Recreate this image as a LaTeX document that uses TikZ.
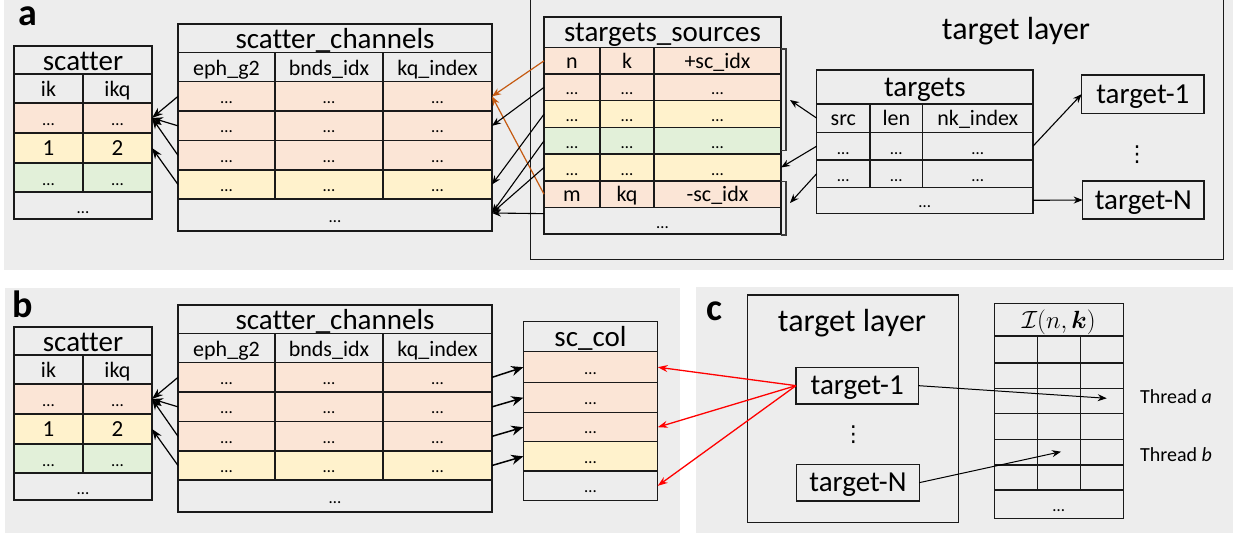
\documentclass[tikz,border=0pt]{standalone}
\usepackage{fontspec}
\setmainfont{Carlito}[Ligatures=NoCommon]
\newfontfamily\dejavu{DejaVu Sans}
\usepackage{amsmath}
\usetikzlibrary{arrows.meta,calc}
\definecolor{pinkc}{HTML}{FBE5D6}
\definecolor{yelc}{HTML}{FFF2CC}
\definecolor{grnc}{HTML}{E2F0D9}
\definecolor{bgc}{HTML}{EDEDED}
\definecolor{lnc}{HTML}{1A1A1A}
\definecolor{orgc}{HTML}{C55A11}
\newcommand\fs[1]{\fontsize{#1}{#1}\selectfont}
\newcommand\fd{\fs{17}}
\newcommand\ft{\fs{29}}
\tikzset{
  cell/.style={draw=lnc, line width=1.4pt, inner sep=0pt, outer sep=0pt, text depth=0pt, anchor=center},
  boxline/.style={draw=lnc, line width=1.4pt},
  brk/.style={draw=lnc!85, line width=1.1pt},
  arrA/.style={-{Stealth[length=9pt,width=7pt]}, line width=1.1pt, draw=black},
  arrS/.style={-{Stealth[length=11pt,width=8pt]}, line width=1.2pt, draw=black},
  arrB/.style={-{Stealth[length=12pt,width=10pt]}, line width=1.5pt, draw=black},
  arrO/.style={-{Stealth[length=9pt,width=7pt]}, line width=1.2pt, draw=orgc},
  arrR/.style={-{Stealth[length=10pt,width=7pt]}, line width=1.3pt, draw=red},
  lbl/.style={font=\bfseries\fs{38}, anchor=base, inner sep=0pt},
  vd/.style={font=\dejavu\fs{22}, inner sep=0pt},
}
% name, x1, y1, x2, y2, fill, font, baseline offset, text
\newcommand\tcell[9]{%
  \pgfmathsetmacro\tcW{#4-#2}%
  \pgfmathsetmacro\tcH{#5-#3}%
  \pgfmathsetmacro\tcX{(#2+#4)/2}%
  \pgfmathsetmacro\tcY{(#3+#5)/2}%
  \pgfmathsetmacro\tcT{#5-#3-2*#8}%
  \node[cell,fill=#6,font=#7,minimum width=\tcW pt,minimum height=\tcH pt,text height=\tcT pt] (#1) at (\tcX,\tcY) {#9};%
}
\newcommand\scatterpair[1]{%
  % scatter table
  \tcell{#1S0}{14}{46}{152}{74}{none}{\ft}{3.4}{scatter}
  \tcell{#1Sh1}{14}{74}{83}{103}{none}{\fs{22}}{6.3}{ik}
  \tcell{#1Sh2}{83}{74}{152}{103}{none}{\fs{22}}{6.3}{ikq}
  \tcell{#1S1a}{14}{103}{83}{133}{pinkc}{\fd}{7.5}{…}
  \tcell{#1S1b}{83}{103}{152}{133}{pinkc}{\fd}{7.5}{…}
  \tcell{#1S2a}{14}{133}{83}{163}{yelc}{\fs{23}}{8}{1}
  \tcell{#1S2b}{83}{133}{152}{163}{yelc}{\fs{23}}{8}{2}
  \tcell{#1S3a}{14}{163}{83}{192}{grnc}{\fd}{7}{…}
  \tcell{#1S3b}{83}{163}{152}{192}{grnc}{\fd}{7}{…}
  \tcell{#1S4}{14}{192}{152}{219}{none}{\fd}{6}{…}
  % scatter_channels table
  \tcell{#1C0}{178}{24}{492}{52.7}{none}{\ft}{4.4}{scatter\_channels}
  \tcell{#1Ch1}{178}{52.7}{275}{81.7}{none}{\fs{22}}{6.7}{eph\_g2}
  \tcell{#1Ch2}{275}{52.7}{383}{81.7}{none}{\fs{22}}{6.7}{bnds\_idx}
  \tcell{#1Ch3}{383}{52.7}{492}{81.7}{none}{\fs{22}}{6.7}{kq\_index}
  \tcell{#1C1a}{178}{81.7}{275}{111}{pinkc}{\fd}{8}{…}
  \tcell{#1C1b}{275}{81.7}{383}{111}{pinkc}{\fd}{8}{…}
  \tcell{#1C1c}{383}{81.7}{492}{111}{pinkc}{\fd}{8}{…}
  \tcell{#1C2a}{178}{111}{275}{140.7}{pinkc}{\fd}{8}{…}
  \tcell{#1C2b}{275}{111}{383}{140.7}{pinkc}{\fd}{8}{…}
  \tcell{#1C2c}{383}{111}{492}{140.7}{pinkc}{\fd}{8}{…}
  \tcell{#1C3a}{178}{140.7}{275}{170}{pinkc}{\fd}{8}{…}
  \tcell{#1C3b}{275}{140.7}{383}{170}{pinkc}{\fd}{8}{…}
  \tcell{#1C3c}{383}{140.7}{492}{170}{pinkc}{\fd}{8}{…}
  \tcell{#1C4a}{178}{170}{275}{199}{yelc}{\fd}{8}{…}
  \tcell{#1C4b}{275}{170}{383}{199}{yelc}{\fd}{8}{…}
  \tcell{#1C4c}{383}{170}{492}{199}{yelc}{\fd}{8}{…}
  \tcell{#1C5}{178}{199}{492}{231}{none}{\fd}{8.5}{…}
  % channels -> scatter
  \draw[arrS] (#1C1a.west) -- (#1S1b.east);
  \draw[arrS] (#1C2a.west) -- (#1S1b.east);
  \draw[arrS] (#1C3a.west) -- (#1S1b.east);
  \draw[arrS] (#1C4a.west) -- (#1S2b.east);
}
\begin{document}
\begin{tikzpicture}[x=1pt,y=-1pt]
\path[use as bounding box, fill=white] (0,0) rectangle (1237,535);
% panel backgrounds
\fill[bgc] (4,0) rectangle (1233,270);
\fill[bgc] (5,288.3) rectangle (680,533);
\fill[bgc] (696,286.7) rectangle (1233,533);

%================ panel a
\node[lbl] (la) at (28.3,26) {a};
\draw[boxline] (530.7,-5) rectangle (1223.3,259.3);
\node[font=\fs{32}, anchor=base, inner sep=0pt] (tla) at (1016,39.3) {target layer};
\scatterpair{p}

% stargets_sources
\tcell{T0}{544}{17}{781}{47.7}{none}{\ft}{6}{stargets\_sources}
\tcell{T1a}{544}{47.7}{600}{74}{pinkc}{\fs{22}}{5.7}{n}
\tcell{T1b}{600}{47.7}{654}{74}{pinkc}{\fs{22}}{5.7}{k}
\tcell{T1c}{654}{47.7}{781}{74}{pinkc}{\fs{22}}{5.7}{+sc\_idx}
\tcell{T2a}{544}{74}{600}{100.7}{pinkc}{\fd}{6}{…}
\tcell{T2b}{600}{74}{654}{100.7}{pinkc}{\fd}{6}{…}
\tcell{T2c}{654}{74}{781}{100.7}{pinkc}{\fd}{6}{…}
\tcell{T3a}{544}{100.7}{600}{127.7}{yelc}{\fd}{6}{…}
\tcell{T3b}{600}{100.7}{654}{127.7}{yelc}{\fd}{6}{…}
\tcell{T3c}{654}{100.7}{781}{127.7}{yelc}{\fd}{6}{…}
\tcell{T4a}{544}{127.7}{600}{154}{grnc}{\fd}{6}{…}
\tcell{T4b}{600}{127.7}{654}{154}{grnc}{\fd}{6}{…}
\tcell{T4c}{654}{127.7}{781}{154}{grnc}{\fd}{6}{…}
\tcell{T5a}{544}{154}{600}{181}{yelc}{\fd}{6}{…}
\tcell{T5b}{600}{154}{654}{181}{yelc}{\fd}{6}{…}
\tcell{T5c}{654}{154}{781}{181}{yelc}{\fd}{6}{…}
\tcell{T6a}{544}{181}{600}{207.3}{pinkc}{\fs{22}}{5.7}{m}
\tcell{T6b}{600}{181}{654}{207.3}{pinkc}{\fs{22}}{5.7}{kq}
\tcell{T6c}{654}{181}{781}{207.3}{pinkc}{\fs{22}}{5.7}{-sc\_idx}
\tcell{T7}{544}{207.3}{781}{234}{none}{\fd}{6}{…}
% brackets
\draw[brk] (781,49) -- (786,49) -- (786,150.7) -- (781,150.7);
\draw[brk] (781,181.7) -- (786,181.7) -- (786,235) -- (781,235);
\coordinate (br1) at (790,100);
\coordinate (br2) at (790,203);

% targets
\tcell{G0}{816.7}{70}{1033}{104}{none}{\ft}{7.3}{targets}
\tcell{Gh1}{816.7}{104}{870}{132.3}{none}{\fs{22}}{7.3}{src}
\tcell{Gh2}{870}{104}{922.7}{132.3}{none}{\fs{22}}{7.3}{len}
\tcell{Gh3}{922.7}{104}{1033}{132.3}{none}{\fs{22}}{7.3}{nk\_index}
\tcell{G1a}{816.7}{132.3}{870}{160}{none}{\fd}{5.5}{…}
\tcell{G1b}{870}{132.3}{922.7}{160}{none}{\fd}{5.5}{…}
\tcell{G1c}{922.7}{132.3}{1033}{160}{none}{\fd}{5.5}{…}
\tcell{G2a}{816.7}{160}{870}{187.3}{none}{\fd}{5.5}{…}
\tcell{G2b}{870}{160}{922.7}{187.3}{none}{\fd}{5.5}{…}
\tcell{G2c}{922.7}{160}{1033}{187.3}{none}{\fd}{5.5}{…}
\tcell{G3}{816.7}{187.3}{1033}{213.3}{none}{\fd}{6}{…}

\tcell{t1}{1081.7}{75}{1204}{113.3}{none}{\ft}{10}{target-1}
\tcell{tN}{1082.7}{181}{1204}{219}{none}{\ft}{9.7}{target-N}
\node[vd] (vd1) at (1137,155) {⋮};

% arrows panel a
\draw[arrO] (T1a.west) -- (pC1c.east);
\draw[arrO] (T6a.west) -- (pC1c.east);
\draw[arrA] (T2a.west) -- (pC2c.east);
\draw[arrA] (T3a.west) -- (pC4c.east);
\coordinate (c5in) at ($(pC5.east)+(0,-2)$);
\draw[arrA] (T4a.west) -- (c5in);
\draw[arrA] (T5a.west) -- (c5in);
\draw[arrA] ($(T7.west)+(0,-7)$) -- (c5in);
\draw[arrA] (Gh1.west) -- (br1);
\draw[arrA] (G1a.west) -- (T5c.east);
\draw[arrA] (G2a.west) -- (br2);
\draw[arrA] (G1c.east) -- (t1.west);
\draw[arrA] (G3.east) -- (tN.west);

%================ panel b
\node[lbl] (lb) at (23,317) {b};
\begin{scope}[shift={(0,281)}]
\scatterpair{b}
\end{scope}
\tcell{K0}{523.3}{321.7}{657.7}{351.7}{none}{\ft}{5.7}{sc\_col}
\tcell{K1}{523.3}{351.7}{657.7}{382.7}{pinkc}{\fd}{8}{…}
\tcell{K2}{523.3}{382.7}{657.7}{412.7}{pinkc}{\fd}{8}{…}
\tcell{K3}{523.3}{412.7}{657.7}{441.7}{pinkc}{\fd}{8}{…}
\tcell{K4}{523.3}{441.7}{657.7}{471}{yelc}{\fd}{8}{…}
\tcell{K5}{523.3}{471}{657.7}{500.7}{none}{\fd}{8}{…}
\draw[arrB] (bC1c.east) -- (K1.west);
\draw[arrB] (bC2c.east) -- (K2.west);
\draw[arrB] (bC3c.east) -- (K3.west);
\draw[arrB] (bC4c.east) -- (K4.west);

%================ panel c
\node[lbl] (lc) at (714.5,320) {c};
\draw[boxline] (747.7,295) rectangle (958.3,522.3);
\node[font=\fs{32}, anchor=base, inner sep=0pt] (tlc) at (852,331.7) {target layer};
\tcell{t1c}{796}{367.3}{918.3}{404}{none}{\ft}{10}{target-1}
\tcell{tNc}{796.7}{464.3}{919.3}{501}{none}{\ft}{10}{target-N}
\node[vd] (vd2) at (853.3,435) {⋮};

% I(n,k) table
\tcell{I0}{994.3}{303.3}{1123.3}{336}{none}{\fs{24}}{8}{$\mathcal{I}(n,\boldsymbol{k})$}
\foreach \r/\ya/\yb in {1/336/363,2/363/388.3,3/388.3/413.3,4/413.3/439.3,5/439.3/465,6/465/490}{
  \tcell{I\r a}{994.3}{\ya}{1037.7}{\yb}{none}{\fd}{6}{}
  \tcell{I\r b}{1037.7}{\ya}{1080.7}{\yb}{none}{\fd}{6}{}
  \tcell{I\r c}{1080.7}{\ya}{1123.3}{\yb}{none}{\fd}{6}{}
}
\tcell{I7}{994.3}{490}{1123.3}{518.3}{none}{\fd}{6.5}{…}
\coordinate (thA) at (1106.7,398.3);
\coordinate (thB) at (1061,451.7);
\draw[arrA, line width=1pt] (t1c.east) -- (thA);
\draw[arrA, line width=1pt] (tNc.east) -- (thB);
\node[font=\fs{20}, anchor=base west, inner sep=0pt] (tha) at (1140,403.3) {Thread \textit{a}};
\node[font=\fs{20}, anchor=base west, inner sep=0pt] (thb) at (1140,461.7) {Thread \textit{b}};

% red arrows
\draw[arrR] (t1c.west) -- (K1.east);
\draw[arrR] (t1c.west) -- (K3.east);
\draw[arrR] (t1c.west) -- (K5.east);
\end{tikzpicture}
\end{document}
